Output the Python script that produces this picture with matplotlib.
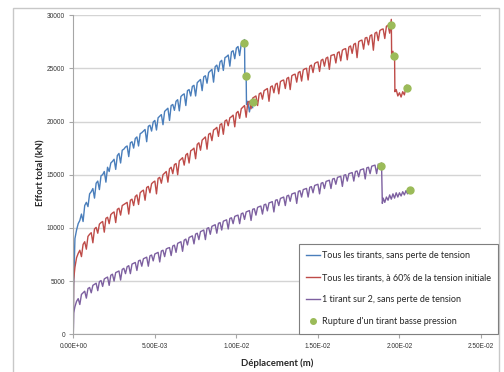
import numpy as np
import matplotlib
matplotlib.use("Agg")
import matplotlib.pyplot as plt
from matplotlib.ticker import FuncFormatter, MultipleLocator
from matplotlib.lines import Line2D
from matplotlib.patches import Rectangle

# displacement steps read along the x axis, in mm (0.1 mm apart)
grid_mm = [
    0.1, 0.2, 0.3, 0.4, 0.5, 0.6, 0.7, 0.8, 0.9, 1.0,
    1.1, 1.2, 1.3, 1.4, 1.5, 1.6, 1.7, 1.8, 1.9, 2.0,
    2.1, 2.2, 2.3, 2.4, 2.5, 2.6, 2.7, 2.8, 2.9, 3.0,
    3.1, 3.2, 3.3, 3.4, 3.5, 3.6, 3.7, 3.8, 3.9, 4.0,
    4.1, 4.2, 4.3, 4.4, 4.5, 4.6, 4.7, 4.8, 4.9, 5.0,
    5.1, 5.2, 5.3, 5.4, 5.5, 5.6, 5.7, 5.8, 5.9, 6.0,
    6.1, 6.2, 6.3, 6.4, 6.5, 6.6, 6.7, 6.8, 6.9, 7.0,
    7.1, 7.2, 7.3, 7.4, 7.5, 7.6, 7.7, 7.8, 7.9, 8.0,
    8.1, 8.2, 8.3, 8.4, 8.5, 8.6, 8.7, 8.8, 8.9, 9.0,
    9.1, 9.2, 9.3, 9.4, 9.5, 9.6, 9.7, 9.8, 9.9, 10.0,
    10.1, 10.2, 10.3, 10.4, 10.5, 10.6, 10.7, 10.8, 10.9, 11.0,
    11.1, 11.2, 11.3, 11.4, 11.5, 11.6, 11.7, 11.8, 11.9, 12.0,
    12.1, 12.2, 12.3, 12.4, 12.5, 12.6, 12.7, 12.8, 12.9, 13.0,
    13.1, 13.2, 13.3, 13.4, 13.5, 13.6, 13.7, 13.8, 13.9, 14.0,
    14.1, 14.2, 14.3, 14.4, 14.5, 14.6, 14.7, 14.8, 14.9, 15.0,
    15.1, 15.2, 15.3, 15.4, 15.5, 15.6, 15.7, 15.8, 15.9, 16.0,
    16.1, 16.2, 16.3, 16.4, 16.5, 16.6, 16.7, 16.8, 16.9, 17.0,
    17.1, 17.2, 17.3, 17.4, 17.5, 17.6, 17.7, 17.8, 17.9, 18.0,
    18.1, 18.2, 18.3, 18.4, 18.5, 18.6, 18.7, 18.8, 18.9, 19.0,
    19.1, 19.2, 19.3, 19.4, 19.5,
]

# Tous les tirants, sans perte de tension
blue_x_mm = [0, 0.02] + grid_mm[:105] + [10.52, 10.6, 10.62, 10.7, 10.8, 10.9, 11.0]
blue_y = [
    0, 4500, 9000,
    9800, 10400, 10700, 11300, 10600, 12100, 12400, 12000, 13200, 13400,
    13700, 12800, 14200, 14400, 13600, 14900, 15000, 15300, 14300, 15700,
    15300, 16100, 16250, 16450, 15500, 16800, 17000, 16100, 17300, 17400,
    17600, 17700, 16700, 18000, 18100, 17500, 18400, 18550, 17700, 18850,
    18950, 19100, 19250, 18100, 19550, 19650, 19100, 19950, 20100, 19200,
    20350, 20500, 20650, 19700, 20950, 21100, 21250, 20100, 21500, 21600,
    21050, 21900, 22050, 21000, 22350, 22500, 22600, 21500, 22900, 23000,
    22400, 23300, 23400, 22400, 23650, 23800, 23950, 22900, 24200, 24300,
    23600, 24600, 24750, 24900, 23700, 25150, 25300, 24700, 25600, 25750,
    24800, 26000, 26100, 26250, 25200, 26550, 26650, 25900, 26900, 27050,
    26200, 27300, 27450, 27700,
    24200, 24300, 21600, 21900, 20900, 21700, 21300,
]

# Tous les tirants, a 60% de la tension initiale
red_x_mm = [0, 0.02] + grid_mm[:195] + [19.52, 19.6, 19.65, 19.7, 19.72, 19.8,
                                        19.9, 20.0, 20.1, 20.2, 20.3, 20.4, 20.45]
red_y = [
    0, 5100,
    6300, 7200, 7600, 7900, 7300, 8450, 8700, 8000, 9200, 9400,
    9550, 8600, 9900, 10050, 9500, 10350, 10500, 10600, 9600, 10900,
    11000, 10400, 11250, 11400, 11500, 10500, 11750, 11850, 11200, 12100,
    12200, 12300, 12400, 11300, 12600, 12700, 12100, 12950, 13100, 12200,
    13300, 13450, 13550, 12600, 13800, 13900, 13300, 14150, 14300, 14400,
    13200, 14650, 14750, 14200, 15000, 15150, 15300, 14300, 15550, 15700,
    15100, 15950, 16050, 15000, 16300, 16450, 16600, 15900, 16850, 17000,
    16100, 17250, 17350, 17500, 16500, 17850, 18000, 17300, 18250, 18400,
    18550, 17400, 18800, 18900, 18200, 19200, 19300, 19450, 18600, 19700,
    19800, 18800, 20050, 20150, 19600, 20350, 20450, 20600, 19500, 20800,
    20950, 20300, 21200, 21350, 21500, 20400, 21800, 21900, 21200, 22200,
    22300, 22400, 21500, 22600, 22700, 22100, 22900, 23000, 23100, 21900,
    23250, 23350, 22700, 23500, 23600, 22600, 23750, 23850, 23900, 23100,
    24050, 24150, 23000, 24300, 24400, 24450, 23700, 24600, 24700, 23800,
    24850, 24950, 25000, 23900, 25200, 25300, 24600, 25450, 25550, 25600,
    24700, 25750, 25850, 25200, 25950, 26050, 24900, 26200, 26250, 26300,
    25500, 26450, 26550, 25700, 26700, 26800, 26850, 25800, 27000, 27100,
    26400, 27250, 27350, 26000, 27500, 27600, 27650, 26800, 27850, 27900,
    27200, 28050, 28150, 26700, 28300, 28400, 27600, 28550, 28650, 28700,
    27800, 28950, 29050, 28300, 29600,
    26300, 26600, 25900, 26200, 22800, 23000, 22400, 22700, 22300, 22800,
    22500, 23200, 23400,
]

# 1 tirant sur 2, sans perte de tension
purple_x_mm = [0, 0.02] + grid_mm[:189] + [18.95, 19.0, 19.1, 19.2, 19.3, 19.4,
                                           19.5, 19.6, 19.7, 19.8, 19.9, 20.0,
                                           20.1, 20.2, 20.3, 20.4, 20.5, 20.6]
purple_y = [
    0, 2000,
    2600, 3100, 3350, 2800, 3750, 3900, 4050, 3400, 4300, 4400,
    3900, 4600, 4700, 4800, 4100, 4950, 5050, 4500, 5200, 5300,
    5380, 4600, 5550, 5650, 5000, 5800, 5880, 5950, 5100, 6100,
    6200, 5700, 6350, 6450, 5700, 6600, 6680, 6750, 6000, 6900,
    6970, 6400, 7100, 7170, 7250, 6400, 7370, 7450, 6900, 7550,
    7620, 7700, 6800, 7830, 7900, 7300, 8020, 8100, 8150, 7400,
    8300, 8380, 7700, 8550, 8630, 8700, 7800, 8850, 8950, 8400,
    9100, 9180, 9250, 8500, 9420, 9500, 8900, 9650, 9730, 9800,
    8900, 9950, 10020, 9400, 10150, 10220, 10300, 9500, 10430, 10500,
    9800, 10630, 10700, 10760, 9900, 10890, 10950, 10400, 11080, 11150,
    11200, 10400, 11330, 11400, 10800, 11500, 11570, 11630, 10700, 11750,
    11800, 11200, 11930, 12000, 12050, 11300, 12170, 12230, 11600, 12350,
    12400, 12470, 11500, 12600, 12650, 12100, 12770, 12830, 12900, 12100,
    13000, 13070, 12500, 13190, 13250, 13300, 12300, 13430, 13500, 12900,
    13600, 13660, 13710, 12900, 13820, 13880, 13300, 13990, 14050, 14100,
    13200, 14200, 14260, 13700, 14370, 14430, 14480, 13700, 14590, 14650,
    14100, 14750, 14800, 14850, 13900, 14950, 15000, 14400, 15100, 15150,
    15200, 14400, 15300, 15350, 14800, 15450, 15500, 15550, 14600, 15650,
    15700, 15100, 15800, 15850, 15900, 15100, 16000, 15600, 16100,
    12300, 12800, 12400, 12900, 12600, 13100, 12700, 13200, 12800, 13300,
    12900, 13300, 13000, 13400, 13100, 13500, 13200, 13500,
]

# Rupture d'un tirant basse pression
rupture_x_mm = [10.49, 10.61, 10.99, 19.51, 19.69, 20.45, 18.89, 20.65]
rupture_y = [27350, 24250, 21800, 29100, 26180, 23120, 15820, 13560]

labels = ["Tous les tirants, sans perte de tension",
          "Tous les tirants, à 60% de la tension initiale",
          "1 tirant sur 2, sans perte de tension",
          "Rupture d'un tirant basse pression"]

c_blue = "#4a7ebb"
c_red = "#be4b48"
c_purple = "#7d60a0"
c_green = "#9bbb59"
W, H = 504, 372

fig = plt.figure(figsize=(W / 100, H / 100), dpi=100)
ax = fig.add_axes([73.3 / W, 1 - 334.3 / H, (481 - 73.3) / W, (334.3 - 15.1) / H])

# light frame of the whole chart area
fig.add_artist(Rectangle((13 / W, -0.05), (499 - 13) / W, 1 - 8 / H + 0.05,
                         transform=fig.transFigure, fill=False,
                         ec="#c8c8c8", lw=1))

ax.plot(np.array(blue_x_mm) * 1e-3, blue_y, color=c_blue, lw=1.0)
ax.plot(np.array(red_x_mm) * 1e-3, red_y, color=c_red, lw=1.0)
ax.plot(np.array(purple_x_mm) * 1e-3, purple_y, color=c_purple, lw=1.0)
ax.plot(np.array(rupture_x_mm) * 1e-3, rupture_y, ls="none", marker="o",
        ms=5, color=c_green, zorder=5)

ax.set_xlim(0, 0.025)
ax.set_ylim(0, 30000)
ax.xaxis.set_major_locator(MultipleLocator(0.005))
ax.yaxis.set_major_locator(MultipleLocator(5000))
ax.xaxis.set_major_formatter(FuncFormatter(lambda v, p: f"{v:.2E}"))
ax.yaxis.set_major_formatter(FuncFormatter(lambda v, p: f"{v:.0f}"))

ax.yaxis.grid(True, color="#d4d4d4", lw=1)
ax.set_axisbelow(True)
for s in ["top", "right"]:
    ax.spines[s].set_visible(False)
for s in ["left", "bottom"]:
    ax.spines[s].set_color("#a6a6a6")
    ax.spines[s].set_linewidth(0.8)
ax.tick_params(direction="out", length=3, width=0.8, color="#a6a6a6",
               labelsize=4.7, labelcolor="#333333", pad=3)
for t in ax.get_xticklabels() + ax.get_yticklabels():
    t.set_family("Liberation Sans")

fig.text(277 / W, 1 - 363 / H, "Déplacement (m)", ha="center", va="center",
         fontsize=6.8, fontweight="bold", family="Lato", color="#262626")
fig.text(40.7 / W, 1 - 173 / H, "Effort total (kN)", ha="center", va="center",
         rotation=90, fontsize=6.8, fontweight="bold", family="Lato", color="#262626")

handles = [Line2D([], [], color=c_blue, lw=1),
           Line2D([], [], color=c_red, lw=1),
           Line2D([], [], color=c_purple, lw=1),
           Line2D([], [], ls="none", marker="o", ms=4, color=c_green)]
leg = fig.legend(handles, labels, loc="upper left",
                 bbox_to_anchor=(298.5 / W, 1 - 244 / H), bbox_transform=fig.transFigure,
                 frameon=True, fancybox=False, edgecolor="#7f7f7f", framealpha=1,
                 prop={"family": "Lato", "size": 6.5}, handlelength=1.6,
                 handletextpad=0.2, labelspacing=1.45, borderpad=0.8, borderaxespad=0)
leg.get_frame().set_linewidth(0.8)
for t in leg.get_texts():
    t.set_color("#262626")

fig.savefig("out.png", dpi=100)
